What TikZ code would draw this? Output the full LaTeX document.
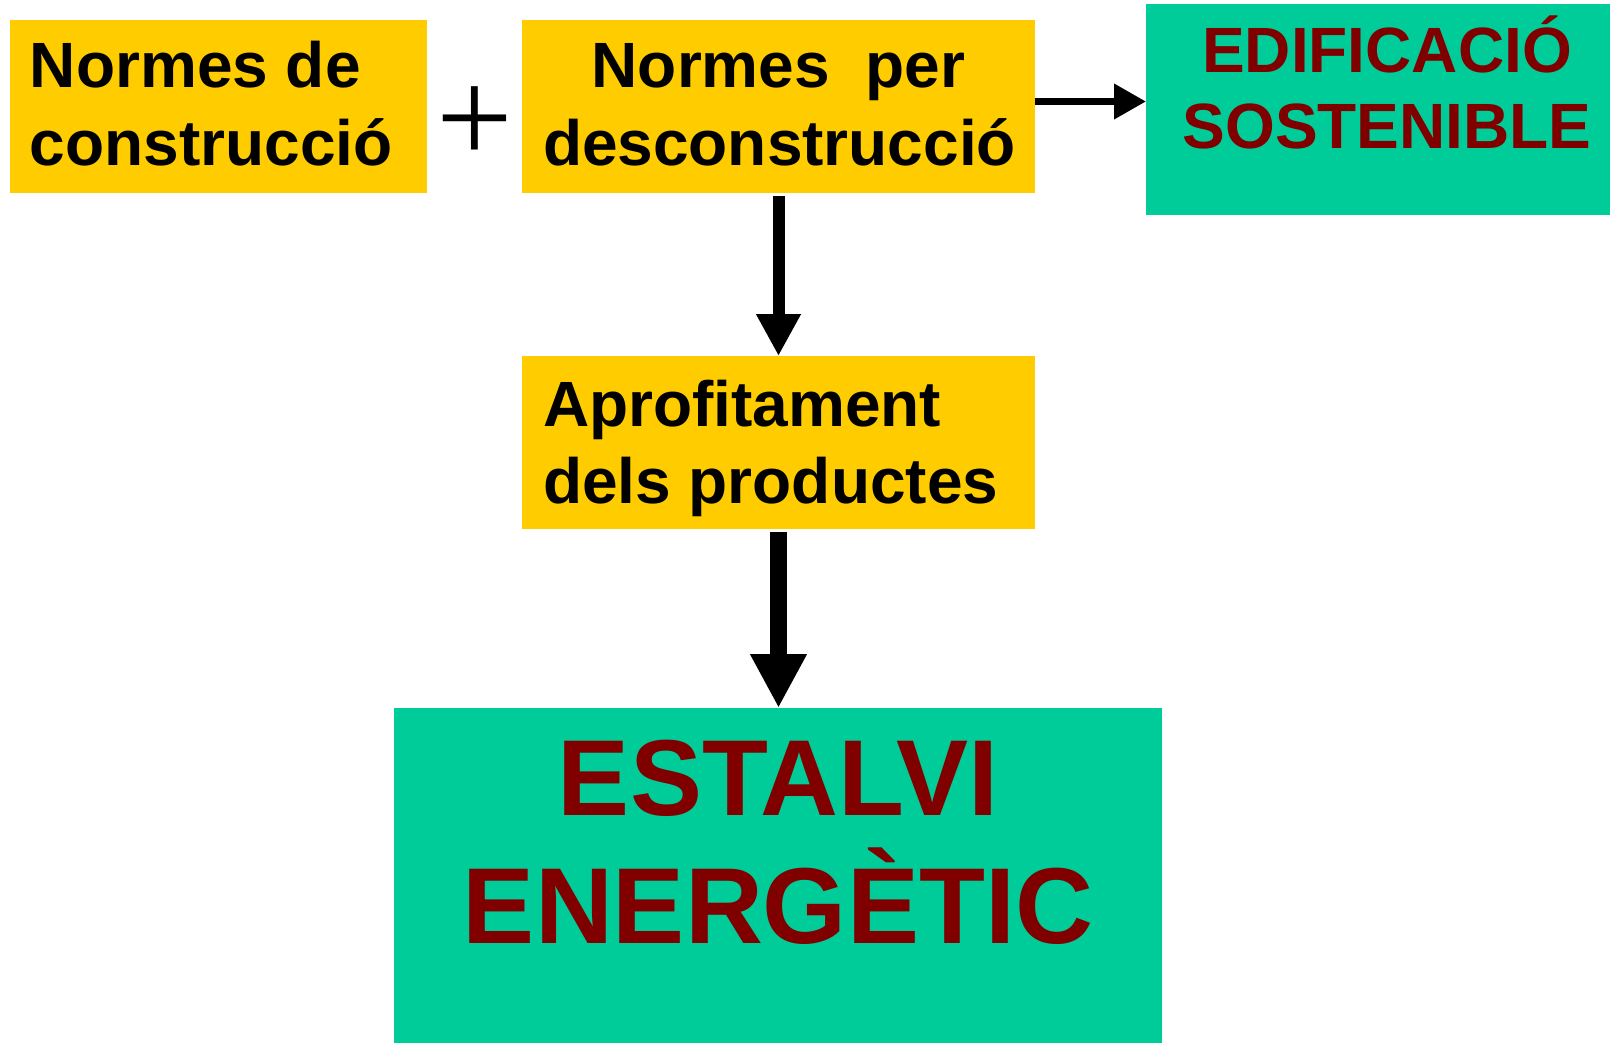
\documentclass[tikz,border=0pt]{standalone}
\usepackage{fontspec}
\setmainfont{Liberation Sans}
\newfontfamily\plusfont{Liberation Serif}
\usetikzlibrary{arrows.meta}
\definecolor{normyellow}{RGB}{255,204,0}
\definecolor{ecogreen}{RGB}{0,204,153}
\definecolor{ecored}{RGB}{128,0,0}

\begin{document}
\begin{tikzpicture}
	[x=1pt, y=-1pt,
	every node/.style={inner sep=0pt, outer sep=0pt},
	norma/.style={fill=normyellow, anchor=north west, inner xsep=#1, inner ysep=0pt,
		font=\bfseries\fontsize{64}{78}\selectfont},
	eco/.style={fill=ecogreen, text=ecored, anchor=north west, inner sep=0pt},
	thinarrow/.style={line width=7pt, -{Triangle[length=32pt, width=34pt]}},
	midarrow/.style={line width=12pt, -{Triangle[length=42pt, width=42pt]}},
	thickarrow/.style={line width=17pt, -{Triangle[length=54pt, width=53pt]}}]
	\useasboundingbox (0,0) rectangle (1610,1043);
	\clip (0,0) rectangle (1610,1043);
	% caixes grogues
	\node[norma=20pt] (constr) at (10,20)
		{\parbox[t][173pt][t]{377pt}{\raggedright\rule{0pt}{68pt}Normes de\\construcció}};
	\node[norma=21pt] (desc) at (522,20)
		{\parbox[t][173pt][t]{471pt}{\centering\rule{0pt}{68pt}Normes\ \ per\\desconstrucció}};
	\node[norma=21pt, font=\bfseries\fontsize{64}{77}\selectfont] (aprof) at (522,356)
		{\parbox[t][173pt][t]{471pt}{\raggedright\rule{0pt}{70pt}Aprofitament\\dels productes}};
	% caixes verdes
	\node[eco, font=\bfseries\fontsize{64}{76}\selectfont] (edif) at (1146,4)
		{\parbox[t][211pt][t]{482pt}{\centering\rule{0pt}{69pt}EDIFICACIÓ\\SOSTENIBLE}};
	\node[eco, font=\bfseries\fontsize{108}{128}\selectfont] (estalvi) at (394,708)
		{\parbox[t][340pt][t]{768pt}{\centering\rule{0pt}{107pt}ESTALVI\\ENERGÈTIC}};
	% signe mes
	\node[font=\plusfont\fontsize{136}{136}\selectfont] (mes) at (474.5,125) {+};
	% fletxes
	\draw[thinarrow] ([yshift=5pt]desc.east) -- ([yshift=5pt]desc.east -| edif.west);
	\draw[midarrow] ([yshift=-3pt]desc.south) -- (aprof.north);
	\draw[thickarrow] ([yshift=-3pt]aprof.south) -- (aprof.south |- estalvi.north);
\end{tikzpicture}
\end{document}
